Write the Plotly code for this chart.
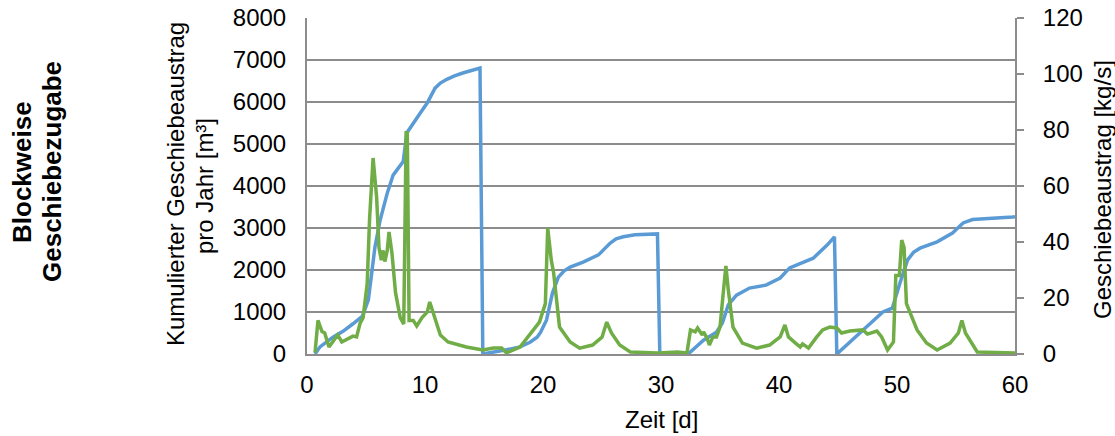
import plotly.graph_objects as go

# Cumulative bed-load output (left axis, m³)
cum_days = [0.68, 1.1, 2.2, 3.05, 3.9, 4.7, 5.2, 5.5, 5.76, 6.2, 6.8, 7.3, 7.9, 8.15, 8.47, 9.0, 9.6, 10.2, 10.85, 11.3, 11.85, 12.5, 13.2, 14.66,
            14.9, 16.9, 18.05, 18.9, 19.5, 19.8, 20.3, 20.8, 21.3, 21.8, 22.3, 23.4, 24.7, 25.7, 26.2, 26.8, 27.8, 29.7,
            29.9, 32.3, 33.6, 34.7, 35.2, 35.7, 36.4, 37.5, 38.9, 40.1, 40.9, 42.9, 44.1, 44.7,
            44.9, 48.8, 49.6, 50.25, 50.9, 51.4, 51.95, 53.4, 54.7, 55.6, 56.0, 56.4, 59.8, 60.0]
cum_vals = [0, 170, 400, 540, 720, 900, 1290, 1930, 2550, 3190, 3830, 4260, 4500, 4580, 5270, 5500, 5740, 5980, 6330, 6450, 6540, 6620, 6690, 6810,
            0, 100, 170, 280, 400, 520, 810, 1450, 1830, 1980, 2070, 2190, 2360, 2640, 2740, 2790, 2840, 2860,
            0, 0, 330, 520, 740, 1170, 1400, 1570, 1640, 1810, 2050, 2280, 2600, 2790,
            0, 1000, 1090, 1690, 2240, 2420, 2520, 2670, 2880, 3120, 3170, 3200, 3260, 3270]

# Bed-load output rate (right axis, kg/s)
rate_days = [0.68, 0.93, 1.27, 1.5, 1.86, 2.2, 2.6, 2.95, 3.5, 3.9, 4.2, 4.5, 4.75, 5.1, 5.3, 5.6, 5.9, 6.1, 6.3, 6.45, 6.6, 6.8, 6.95,
             7.2, 7.5, 7.9, 8.2, 8.4, 8.5, 8.65, 9.0, 9.3, 9.75, 10.2, 10.4, 10.7, 11.3, 11.95, 13.5, 14.9, 15.8, 16.5, 16.9,
             18.05, 18.3, 18.9, 19.7, 20.2, 20.4, 20.7, 20.9, 21.4, 22.3, 23.1, 24.2, 25.0, 25.4, 25.8, 26.5, 27.4, 29.7,
             31.4, 32.2, 32.5, 32.9, 33.1, 33.5, 33.6, 33.9, 34.1, 34.4, 34.7, 35.0, 35.3, 35.5, 35.7, 36.1, 36.9, 38.1,
             39.2, 40.1, 40.5, 40.8, 41.4, 41.8, 42.0, 42.5, 43.2, 43.7, 44.3, 44.9, 45.3, 46.0, 47.1, 47.5, 48.3, 48.7,
             49.2, 49.7, 49.9, 50.2, 50.4, 50.6, 50.8, 51.7, 52.5, 53.4, 54.5, 55.2, 55.5, 55.8, 56.8, 60.0]
rate_vals = [0.5, 12, 8, 7.5, 2.5, 4.3, 6.8, 4.3, 5.7, 6.4, 6.1, 11, 12.9, 25, 48, 70, 56, 38, 33.5, 37, 33, 37, 43.6,
             36, 22, 13, 10.7, 79, 79, 12, 12, 10, 13, 15, 18.6, 14.6, 6.8, 4.3, 2.5, 1.4, 2.1, 2.1, 0.4,
             2.5, 3.9, 6.8, 11.4, 18, 45, 33.6, 29, 9.6, 4.3, 2.1, 3.2, 6, 11.4, 7.5, 3.2, 0.7, 0.4,
             0.7, 0.4, 8.6, 7.9, 9.3, 6.8, 7.9, 5.7, 3.2, 6.1, 6.1, 9.6, 22.9, 31.5, 23, 9.6, 3.9, 2.1,
             3.2, 6.1, 10.4, 6.1, 3.9, 2.5, 3.6, 2.1, 6.1, 8.6, 9.6, 9.3, 7.5, 8.2, 8.6, 7.1, 8.2, 6.1,
             1.4, 4.3, 28, 28, 40.7, 38, 18, 8.6, 3.9, 1.4, 3.9, 7.5, 12, 7.5, 0.7, 0.4]

x_ticks = [0, 10, 20, 30, 40, 50, 60]
left_ticks = [0, 1000, 2000, 3000, 4000, 5000, 6000, 7000, 8000]
right_ticks = [0, 20, 40, 60, 80, 100, 120]

FONT = "Liberation Sans, Arial, sans-serif"
GRID = "#8c8c8c"
FS = 24
L, R, T, B = 307, 100, 18, 82
PW, PH = 1115 - L - R, 436 - T - B


def px_x(px):
    return (px - L) / PW


def px_y(py):
    return (436 - B - py) / PH


fig = go.Figure()
fig.add_trace(go.Scatter(x=cum_days, y=cum_vals, mode="lines",
                         line=dict(color="#5B9BD5", width=3.5), yaxis="y", showlegend=False))
fig.add_trace(go.Scatter(x=rate_days, y=rate_vals, mode="lines",
                         line=dict(color="#70AD47", width=3.5), yaxis="y2", showlegend=False))


def rot(text, x, y, bold=False, size=FS):
    return dict(text=f"<b>{text}</b>" if bold else text, xref="paper", yref="paper",
                x=px_x(x), y=px_y(y), xanchor="center", yanchor="middle", textangle=-90,
                showarrow=False, font=dict(size=size))


fig.update_layout(
    width=1115, height=436,
    margin=dict(l=L, r=R, t=T, b=B, autoexpand=False),
    paper_bgcolor="white", plot_bgcolor="white",
    font=dict(family=FONT, size=FS, color="black"),
    xaxis=dict(range=[0, 60], tickvals=x_ticks, showgrid=False, zeroline=False, automargin=False,
               showline=True, linecolor=GRID, linewidth=2, ticks="", ticklabelstandoff=8),
    yaxis=dict(range=[0, 8000], tickvals=left_ticks, showgrid=True, gridcolor=GRID, gridwidth=2,
               zeroline=False, showline=True, linecolor=GRID, linewidth=2, ticks="",
               ticklabelstandoff=14, automargin=False),
    yaxis2=dict(range=[0, 120], tickvals=right_ticks, overlaying="y", side="right", showgrid=False,
                zeroline=False, showline=True, linecolor=GRID, linewidth=2, ticks="outside",
                ticklen=7, tickwidth=2, tickcolor=GRID, ticklabelstandoff=14, automargin=False),
    annotations=[
        dict(text="Zeit [d]", xref="paper", yref="paper", x=0.5, y=px_y(419), xanchor="center",
             yanchor="middle", showarrow=False, font=dict(size=FS)),
        rot("Kumulierter Geschiebeaustrag", 175, 184),
        rot("pro Jahr [m³]", 204, 186),
        rot("Geschiebeaustrag [kg/s]", 1102, 190),
        rot("Blockweise", 22, 172, bold=True, size=26),
        rot("Geschiebezugabe", 52, 172, bold=True, size=26),
    ],
)

fig.write_html("out.html", config={"displayModeBar": False},
               post_script="document.body.style.margin='0px';document.body.style.overflow='hidden';")
